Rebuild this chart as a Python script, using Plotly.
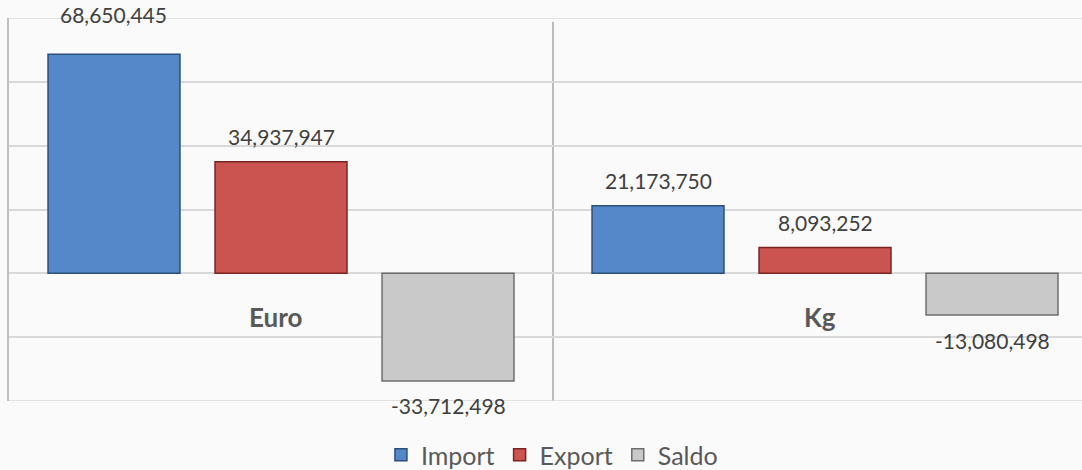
import plotly.graph_objects as go

categories = ["Euro", "Kg"]
series_names = ["Import", "Export", "Saldo"]
import_vals = [68650445, 21173750]
export_vals = [34937947, 8093252]
saldo_vals = [-33712498, -13080498]
tick_vals = [-40000000, -20000000, 0, 20000000, 40000000, 60000000, 80000000]

colors = {"Import": "#5588C9", "Export": "#CB5350", "Saldo": "#C9C9C9"}
edges = {"Import": "#2B4F7C", "Export": "#7A2422", "Saldo": "#6E6E6E"}

FONT = "Lato, 'Open Sans', sans-serif"
BARGAP = 0.079
BARGROUPGAP = 0.21

values = {"Import": import_vals, "Export": export_vals, "Saldo": saldo_vals}
xs = list(range(len(categories)))

fig = go.Figure()
for name in series_names:
    fig.add_trace(go.Bar(
        name=name, x=xs, y=values[name],
        marker=dict(color=colors[name], line=dict(color=edges[name], width=1.5)),
        hoverinfo="skip",
    ))

slot = (1 - BARGAP) / len(series_names)
annotations = []
for si, name in enumerate(series_names):
    for ci, v in enumerate(values[name]):
        shift = 25
        if categories[ci] == "Euro" and name == "Import":
            shift = 40
        annotations.append(dict(
            x=ci + (si - 1) * slot, y=v, xref="x", yref="y",
            text=f"{v:,}", showarrow=False,
            yanchor="middle", yshift=shift if v >= 0 else -shift,
            font=dict(family=FONT, size=21, color="#404040"),
        ))
for ci, c in enumerate(categories):
    annotations.append(dict(
        x=ci, y=0, xref="x", yref="y", text=f"<b>{c}</b>", showarrow=False,
        yanchor="middle", yshift=-44, xshift=-5,
        font=dict(family=FONT, size=26, color="#595959"),
    ))

shapes = [dict(type="line", xref="x", yref="y domain", x0=0.5, x1=0.5, y0=0, y1=0.99,
               line=dict(color="#A6A6A6", width=1.5), layer="below")]
for edge_val in (tick_vals[0], tick_vals[-1]):
    shapes.append(dict(type="line", xref="x domain", yref="y", x0=0, x1=1,
                       y0=edge_val, y1=edge_val,
                       line=dict(color="#D9D9D9", width=1.5), layer="below"))

fig.update_layout(
    width=1082, height=470,
    margin=dict(l=9, r=0, t=18, b=69, autoexpand=False),
    paper_bgcolor="#FAFAFA", plot_bgcolor="rgba(0,0,0,0)",
    barmode="group", bargap=BARGAP, bargroupgap=BARGROUPGAP,
    showlegend=True,
    legend=dict(orientation="h", x=0.506, xanchor="center", y=-0.141, yanchor="middle",
                font=dict(family=FONT, size=25, color="#595959"),
                bgcolor="rgba(0,0,0,0)", itemwidth=30, traceorder="normal"),
    xaxis=dict(range=[-0.5, 1.4724], showticklabels=False, showgrid=False,
               zeroline=False, showline=False, fixedrange=True),
    yaxis=dict(range=[-40000000, 80000000], tickvals=tick_vals, showticklabels=False,
               showgrid=True, gridcolor="#D9D9D9", gridwidth=1.5,
               zeroline=True, zerolinecolor="#D9D9D9", zerolinewidth=1.5,
               showline=True, linecolor="#BFBFBF", linewidth=1.5, fixedrange=True),
    annotations=annotations, shapes=shapes,
)

fig.write_html("out.html", config={"displayModeBar": False},
               post_script="document.body.style.margin='0';document.body.style.background='#FAFAFA';")
